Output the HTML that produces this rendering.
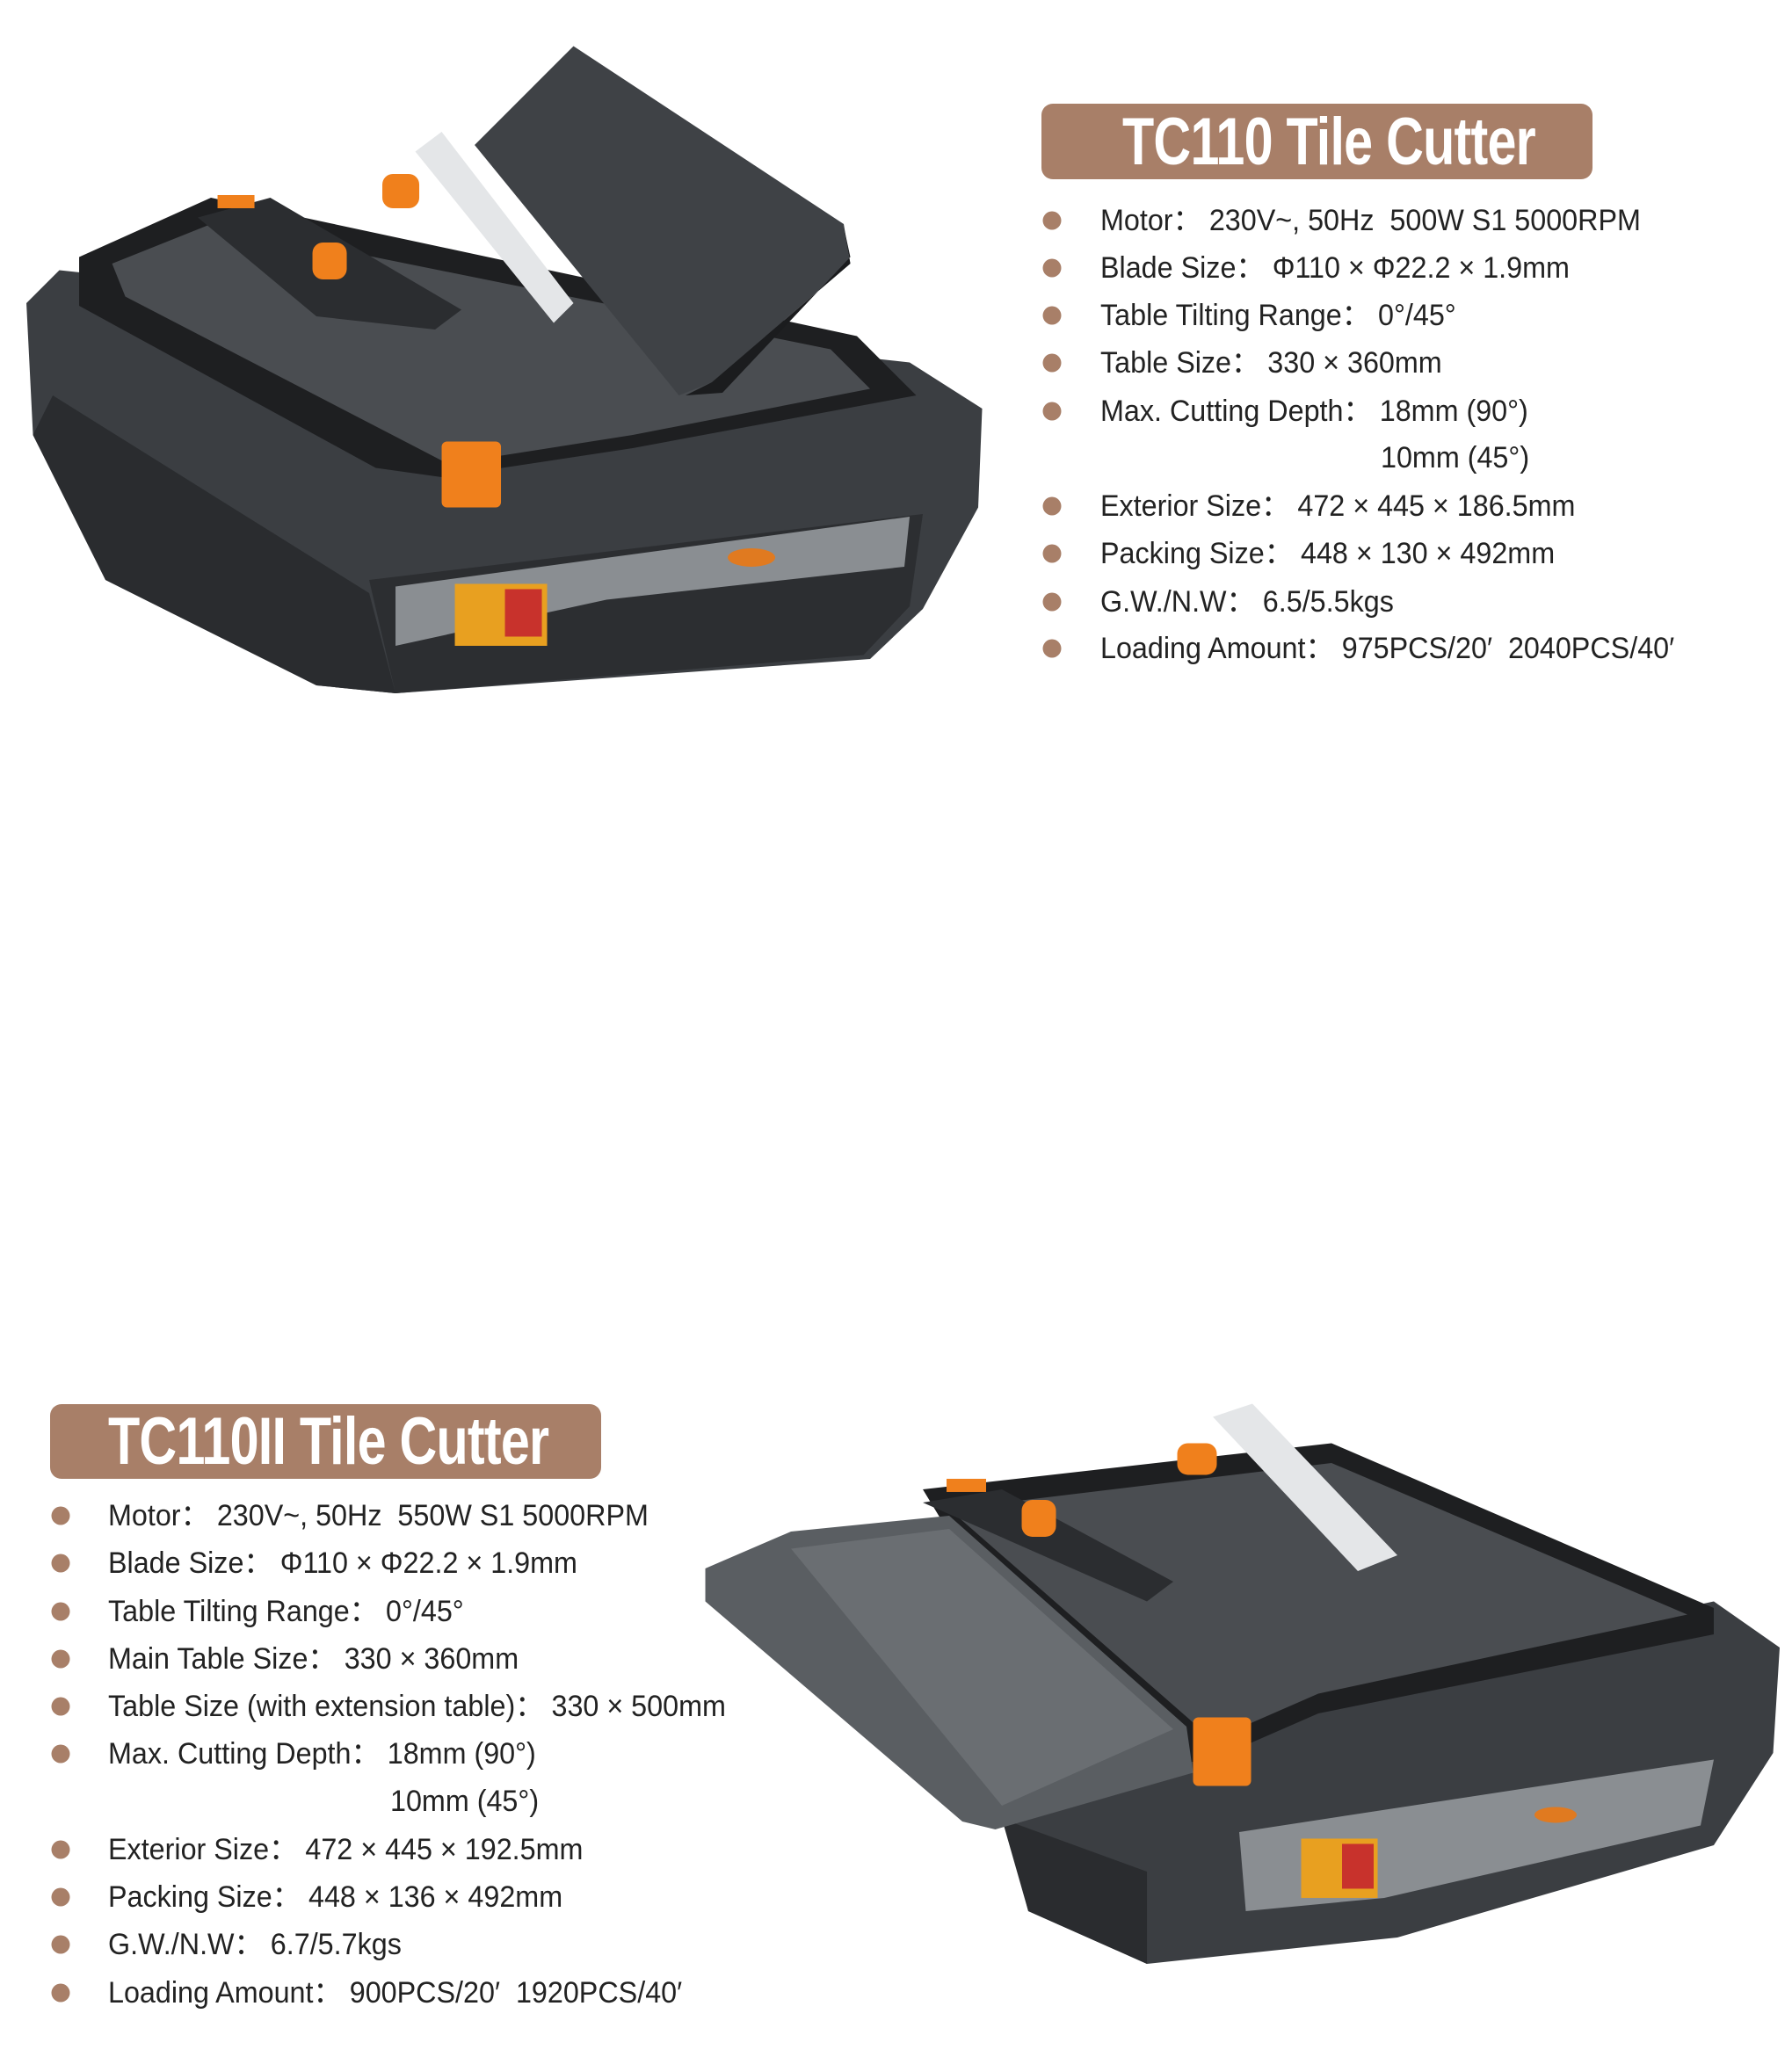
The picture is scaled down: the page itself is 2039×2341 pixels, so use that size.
<!DOCTYPE html>
<html><head><meta charset="utf-8"><style>
html,body{margin:0;padding:0;background:#fff}
body{width:2039px;height:2341px;position:relative;overflow:hidden;font-family:"Liberation Sans","Noto Sans CJK SC",sans-serif}
svg.m{position:absolute;left:0;top:0}
.tb{position:absolute;background:#a87f68;border-radius:13px}
.tt{position:absolute;color:#fff;font-weight:bold;font-size:76px;line-height:1;white-space:nowrap;transform-origin:0 0;letter-spacing:-1px}
.row{position:absolute;font-size:34px;color:#222;white-space:nowrap;line-height:1;transform:translateY(-50%) scaleX(0.95);transform-origin:0 50%}
.dot{position:absolute;width:21px;height:21px;border-radius:50%;background:#a87f68;transform:translate(-50%,-50%)}
</style></head><body>
<svg class="m" width="2039" height="2341" viewBox="0 0 1359.3 1560.7">
<!-- top machine -->
<polygon points="20,230 45,205 690,275 745,310 742,385 700,462 660,500 300,526 240,520 80,440 25,330" fill="#3b3e42"/>
<polygon points="40,300 280,450 300,526 240,520 80,440 25,330" fill="#2a2c2f"/>
<polygon points="280,440 700,390 690,460 655,497 300,526" fill="#2c2e31"/>
<polygon points="300,445 690,392 686,430 460,455 300,490" fill="#8a8e92"/>
<polygon points="60,195 160,150 650,255 695,300 480,340 335,362 285,355 60,232" fill="#1e1f21"/>
<polygon points="85,200 160,170 630,265 660,295 480,330 340,352 95,225" fill="#4a4d51"/>
<polygon points="360,110 435,35 640,170 645,200 540,290 515,300" fill="#3f4246"/>
<polygon points="520,300 540,290 645,200 640,172 645,195 548,298" fill="#1b1c1e"/>
<polygon points="315,115 335,100 435,230 420,245" fill="#e4e6e8"/>
<polygon points="150,165 205,150 350,235 330,250 240,240" fill="#2b2d30"/>
<rect x="165" y="148" width="28" height="10" fill="#f0801c"/>
<rect x="290" y="132" width="28" height="26" rx="8" fill="#f0801c"/>
<rect x="237" y="184" width="26" height="28" rx="8" fill="#f0801c"/>
<rect x="335" y="335" width="45" height="50" rx="4" fill="#f0801c"/>
<rect x="345" y="443" width="70" height="47" fill="#e8a020"/>
<rect x="383" y="447" width="28" height="36" fill="#c8322c"/>
<ellipse cx="570" cy="423" rx="18" ry="7" fill="#e07a20"/>
<!-- bottom machine -->
<polygon points="760,1375 780,1330 1300,1215 1350,1250 1345,1330 1300,1400 1060,1470 870,1490 780,1450" fill="#3b3e42"/>
<polygon points="760,1380 870,1420 870,1490 780,1450" fill="#2a2c2f"/>
<polygon points="940,1390 1300,1335 1290,1385 1050,1440 945,1450" fill="#8a8e92"/>
<polygon points="700,1130 1010,1095 1300,1220 1300,1240 1000,1300 920,1335 830,1345" fill="#1e1f21"/>
<polygon points="720,1145 1010,1110 1280,1225 1000,1285 920,1320" fill="#4a4d51"/>
<polygon points="535,1190 600,1162 720,1150 900,1310 905,1345 755,1388 730,1382 535,1215" fill="#5a5e62"/>
<polygon points="600,1175 720,1160 890,1312 760,1370" fill="#6a6e72"/>
<polygon points="920,1075 950,1065 1060,1180 1030,1192" fill="#e4e6e8"/>
<polygon points="700,1140 760,1130 890,1200 870,1215" fill="#2b2d30"/>
<rect x="718" y="1122" width="30" height="10" fill="#f0801c"/>
<rect x="775" y="1138" width="26" height="28" rx="8" fill="#f0801c"/>
<rect x="893" y="1095" width="30" height="24" rx="8" fill="#f0801c"/>
<rect x="905" y="1303" width="44" height="52" rx="4" fill="#f0801c"/>
<rect x="987" y="1395" width="58" height="45" fill="#e8a020"/>
<rect x="1018" y="1399" width="24" height="34" fill="#c8322c"/>
<ellipse cx="1180" cy="1377" rx="16" ry="6" fill="#e07a20"/>
</svg>

<div class="tb" style="left:1185px;top:118px;width:627px;height:86px"></div>
<div class="tt" style="left:1277px;top:124px;transform:scaleX(0.78)">TC110 Tile Cutter</div>

<div class="dot" style="left:1197px;top:251px"></div><div class="row" style="left:1252px;top:251px">Motor： 230V~, 50Hz&nbsp; 500W S1 5000RPM</div>
<div class="dot" style="left:1197px;top:305px"></div><div class="row" style="left:1252px;top:305px">Blade Size： Φ110 × Φ22.2 × 1.9mm</div>
<div class="dot" style="left:1197px;top:359px"></div><div class="row" style="left:1252px;top:359px">Table Tilting Range： 0°/45°</div>
<div class="dot" style="left:1197px;top:413px"></div><div class="row" style="left:1252px;top:413px">Table Size： 330 × 360mm</div>
<div class="dot" style="left:1197px;top:468px"></div><div class="row" style="left:1252px;top:468px">Max. Cutting Depth： 18mm (90°)</div>
<div class="row" style="left:1571px;top:521px">10mm (45°)</div>
<div class="dot" style="left:1197px;top:576px"></div><div class="row" style="left:1252px;top:576px">Exterior Size： 472 × 445 × 186.5mm</div>
<div class="dot" style="left:1197px;top:630px"></div><div class="row" style="left:1252px;top:630px">Packing Size： 448 × 130 × 492mm</div>
<div class="dot" style="left:1197px;top:685px"></div><div class="row" style="left:1252px;top:685px">G.W./N.W： 6.5/5.5kgs</div>
<div class="dot" style="left:1197px;top:738px"></div><div class="row" style="left:1252px;top:738px">Loading Amount： 975PCS/20′&nbsp; 2040PCS/40′</div>

<div class="tb" style="left:57px;top:1598px;width:627px;height:85px"></div>
<div class="tt" style="left:123px;top:1603px;transform:scaleX(0.78)">TC110II Tile Cutter</div>

<div class="dot" style="left:69px;top:1725px"></div><div class="row" style="left:123px;top:1725px">Motor： 230V~, 50Hz&nbsp; 550W S1 5000RPM</div>
<div class="dot" style="left:69px;top:1779px"></div><div class="row" style="left:123px;top:1779px">Blade Size： Φ110 × Φ22.2 × 1.9mm</div>
<div class="dot" style="left:69px;top:1834px"></div><div class="row" style="left:123px;top:1834px">Table Tilting Range： 0°/45°</div>
<div class="dot" style="left:69px;top:1888px"></div><div class="row" style="left:123px;top:1888px">Main Table Size： 330 × 360mm</div>
<div class="dot" style="left:69px;top:1942px"></div><div class="row" style="left:123px;top:1942px">Table Size (with extension table)： 330 × 500mm</div>
<div class="dot" style="left:69px;top:1996px"></div><div class="row" style="left:123px;top:1996px">Max. Cutting Depth： 18mm (90°)</div>
<div class="row" style="left:444px;top:2050px">10mm (45°)</div>
<div class="dot" style="left:69px;top:2105px"></div><div class="row" style="left:123px;top:2105px">Exterior Size： 472 × 445 × 192.5mm</div>
<div class="dot" style="left:69px;top:2159px"></div><div class="row" style="left:123px;top:2159px">Packing Size： 448 × 136 × 492mm</div>
<div class="dot" style="left:69px;top:2213px"></div><div class="row" style="left:123px;top:2213px">G.W./N.W： 6.7/5.7kgs</div>
<div class="dot" style="left:69px;top:2268px"></div><div class="row" style="left:123px;top:2268px">Loading Amount： 900PCS/20′&nbsp; 1920PCS/40′</div>
</body></html>
